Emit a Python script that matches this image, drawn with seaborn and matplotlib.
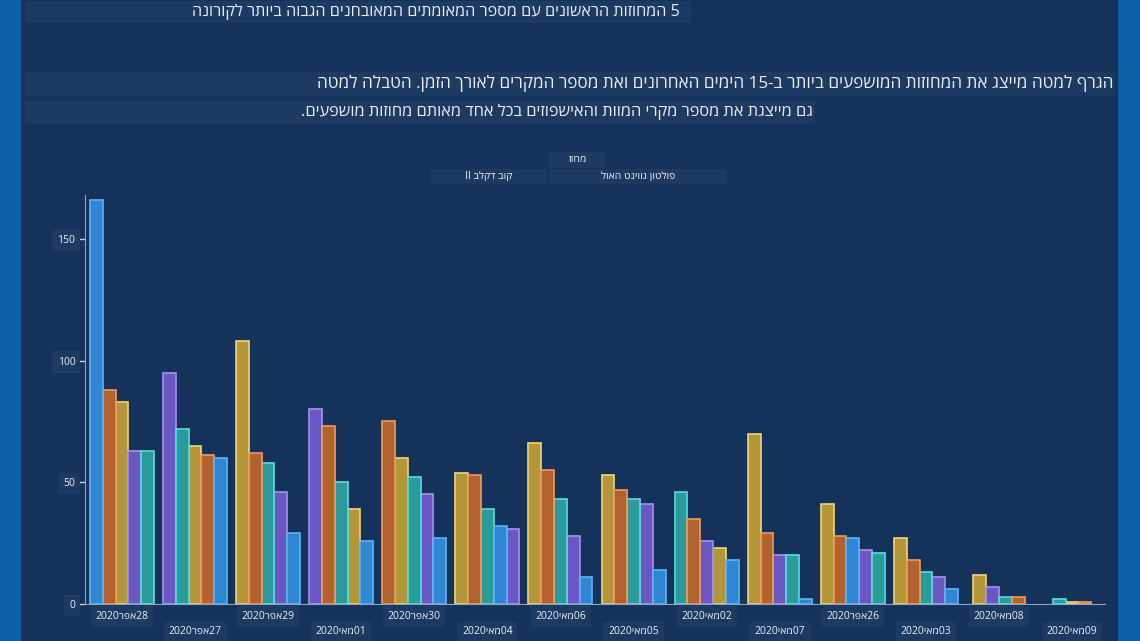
import re
import pandas as pd
import matplotlib
matplotlib.use('Agg')
import matplotlib.pyplot as plt
from matplotlib.patches import Rectangle
from matplotlib.colors import to_hex
import seaborn as sns

# dates in the order they appear on the chart (sorted by total cases)
dates = ['28אפר2020', '27אפר2020', '29אפר2020', '01מאי2020', '30אפר2020', '04מאי2020', '06מאי2020',
         '05מאי2020', '02מאי2020', '07מאי2020', '26אפר2020', '03מאי2020', '08מאי2020', '09מאי2020']

# cases per county (one list per county, same order as dates)
counties = ['פולטון', 'קוב', 'האול', 'גווינט', 'דקלב']
fulton = [83, 65, 108, 39, 60, 54, 66, 53, 23, 70, 41, 27, 12, 1]
cobb = [63, 95, 46, 80, 45, 31, 28, 41, 26, 20, 22, 11, 7, 0]
hall = [63, 72, 58, 50, 52, 39, 43, 43, 46, 20, 21, 13, 3, 2]
gwinnett = [88, 61, 62, 73, 75, 53, 55, 47, 35, 29, 28, 18, 3, 1]
dekalb = [166, 60, 29, 26, 27, 32, 11, 14, 18, 2, 27, 6, 0, 0]

colors = {'פולטון': '#b3953a', 'קוב': '#6a57c2', 'האול': '#2b9a9a', 'גווינט': '#b2622f', 'דקלב': '#2f86d2'}
edges = {'פולטון': '#f2d57a', 'קוב': '#a393f0', 'האול': '#55dde0', 'גווינט': '#f09a5c', 'דקלב': '#5cb4f5'}

title = '5 המחוזות הראשונים עם מספר המאומתים המאובחנים הגבוה ביותר לקורונה'
line2 = 'הגרף למטה מייצג את המחוזות המושפעים ביותר ב-15 הימים האחרונים ואת מספר המקרים לאורך הזמן. הטבלה למטה'
line3 = 'גם מייצגת את מספר מקרי המוות והאישפוזים בכל אחד מאותם מחוזות מושפעים.'


def rtl(s):
    # no bidi in matplotlib: flip the string, keep numbers / latin readable
    s = s[::-1]
    return re.sub(r'[0-9A-Za-z]+', lambda m: m.group(0)[::-1], s)


df = pd.DataFrame({'date': dates, 'פולטון': fulton, 'קוב': cobb, 'האול': hall,
                   'גווינט': gwinnett, 'דקלב': dekalb})
df['g'] = range(len(df))
long = df.melt(id_vars=['date', 'g'], value_vars=counties, var_name='county', value_name='cases')
long = long[long['cases'] > 0].copy()
long['cnum'] = long['county'].map({c: i for i, c in enumerate(counties)})
# bars inside each day go from largest to smallest, centred on the day
long = long.sort_values(['g', 'cases', 'cnum'], ascending=[True, False, True])
long['rank'] = long.groupby('g').cumcount()
long['n'] = long.groupby('g')['cases'].transform('count')
bw = 0.175
long['pos'] = long['g'] + (long['rank'] - (long['n'] - 1) / 2) * bw

panel = '#14325a'
boxc = '#1d3b62'
txt = '#e8eef5'

fig = plt.figure(figsize=(11.4, 6.41), dpi=100)
fig.patch.set_facecolor('#0b5fa6')
fig.patches.append(Rectangle((21 / 1140, 0), (1118 - 21) / 1140, 1, transform=fig.transFigure,
                             facecolor=panel, edgecolor='none', zorder=-5))

plt.rcParams['font.family'] = ['Open Sans', 'DejaVu Sans']

ax = fig.add_axes([85 / 1140, 37 / 641, (1105 - 85) / 1140, (604 - 195) / 641])
ax.set_zorder(2)
ax.set_facecolor(panel)
sns.barplot(data=long, x='pos', y='cases', hue='county', hue_order=counties, palette=colors,
            native_scale=True, dodge=False, width=1, saturation=1, errorbar=None, legend=False, ax=ax)
lookup = {to_hex(colors[c]): edges[c] for c in counties}
for p in ax.patches:
    p.set_edgecolor(lookup.get(to_hex(p.get_facecolor()), 'white'))
    p.set_linewidth(1.2)

ax.set_xlim(-0.505, 13.45)
ax.set_ylim(0, 168)
ax.set_xlabel('')
ax.set_ylabel('')
for s in ['top', 'right']:
    ax.spines[s].set_visible(False)
ax.spines['left'].set_color('#8fa6c0')
ax.spines['bottom'].set_color('#8fa6c0')

ax.set_yticks([0, 50, 100, 150])
ax.tick_params(axis='y', colors='#c8d4e2', labelcolor=txt, labelsize=7.5, length=4, width=1, pad=3)
for lab in ax.get_yticklabels():
    lab.set_bbox(dict(facecolor=boxc, edgecolor='none', boxstyle='square,pad=0.5'))

idx = list(range(len(dates)))
ax.set_xticks(idx[0::2], [rtl(d) for d in dates[0::2]])
ax.set_xticks(idx[1::2], [rtl(d) for d in dates[1::2]], minor=True)
ax.tick_params(axis='x', which='both', length=0, labelcolor=txt, labelsize=7.5)
ax.tick_params(axis='x', which='major', pad=5)
ax.tick_params(axis='x', which='minor', pad=16)
for lab in ax.get_xticklabels() + ax.get_xticklabels(minor=True):
    lab.set_bbox(dict(facecolor=boxc, edgecolor='none', boxstyle='square,pad=0.45'))

# heading lines with their background strips
strips = [(title, 12, 690, 680, 22, 11.6), (line2, 84, 1115, 1113, 24, 12.3), (line3, 112, 815, 813, 23, 11.8)]
for text, yc, right, tx, h, fs in strips:
    fig.patches.append(Rectangle((25 / 1140, 1 - (yc + h / 2) / 641), (right - 25) / 1140, h / 641,
                                 transform=fig.transFigure, facecolor=boxc, edgecolor='none', zorder=1))
    fig.text(tx / 1140, 1 - yc / 641, rtl(text), ha='right', va='center', color=txt, fontsize=fs, zorder=2)

# legend (title + two entries)
legend_boxes = [(550, 605, 152, 168), (431, 547, 169, 184), (549, 727, 169, 184)]
for x0, x1, y0, y1 in legend_boxes:
    fig.patches.append(Rectangle((x0 / 1140, 1 - y1 / 641), (x1 - x0) / 1140, (y1 - y0) / 641,
                                 transform=fig.transFigure, facecolor=boxc, edgecolor='none'))
fig.text(578 / 1140, 1 - 160 / 641, rtl('מחוז'), ha='center', va='center', color=txt, fontsize=7.5)
fig.text(489 / 1140, 1 - 176.5 / 641, rtl('קוב דקלב II'), ha='center', va='center', color=txt, fontsize=7.5)
fig.text(638 / 1140, 1 - 176.5 / 641, rtl('פולטון גווינט האול'), ha='center', va='center', color=txt, fontsize=7.5)

fig.savefig('out.png', dpi=100, facecolor=fig.get_facecolor())
